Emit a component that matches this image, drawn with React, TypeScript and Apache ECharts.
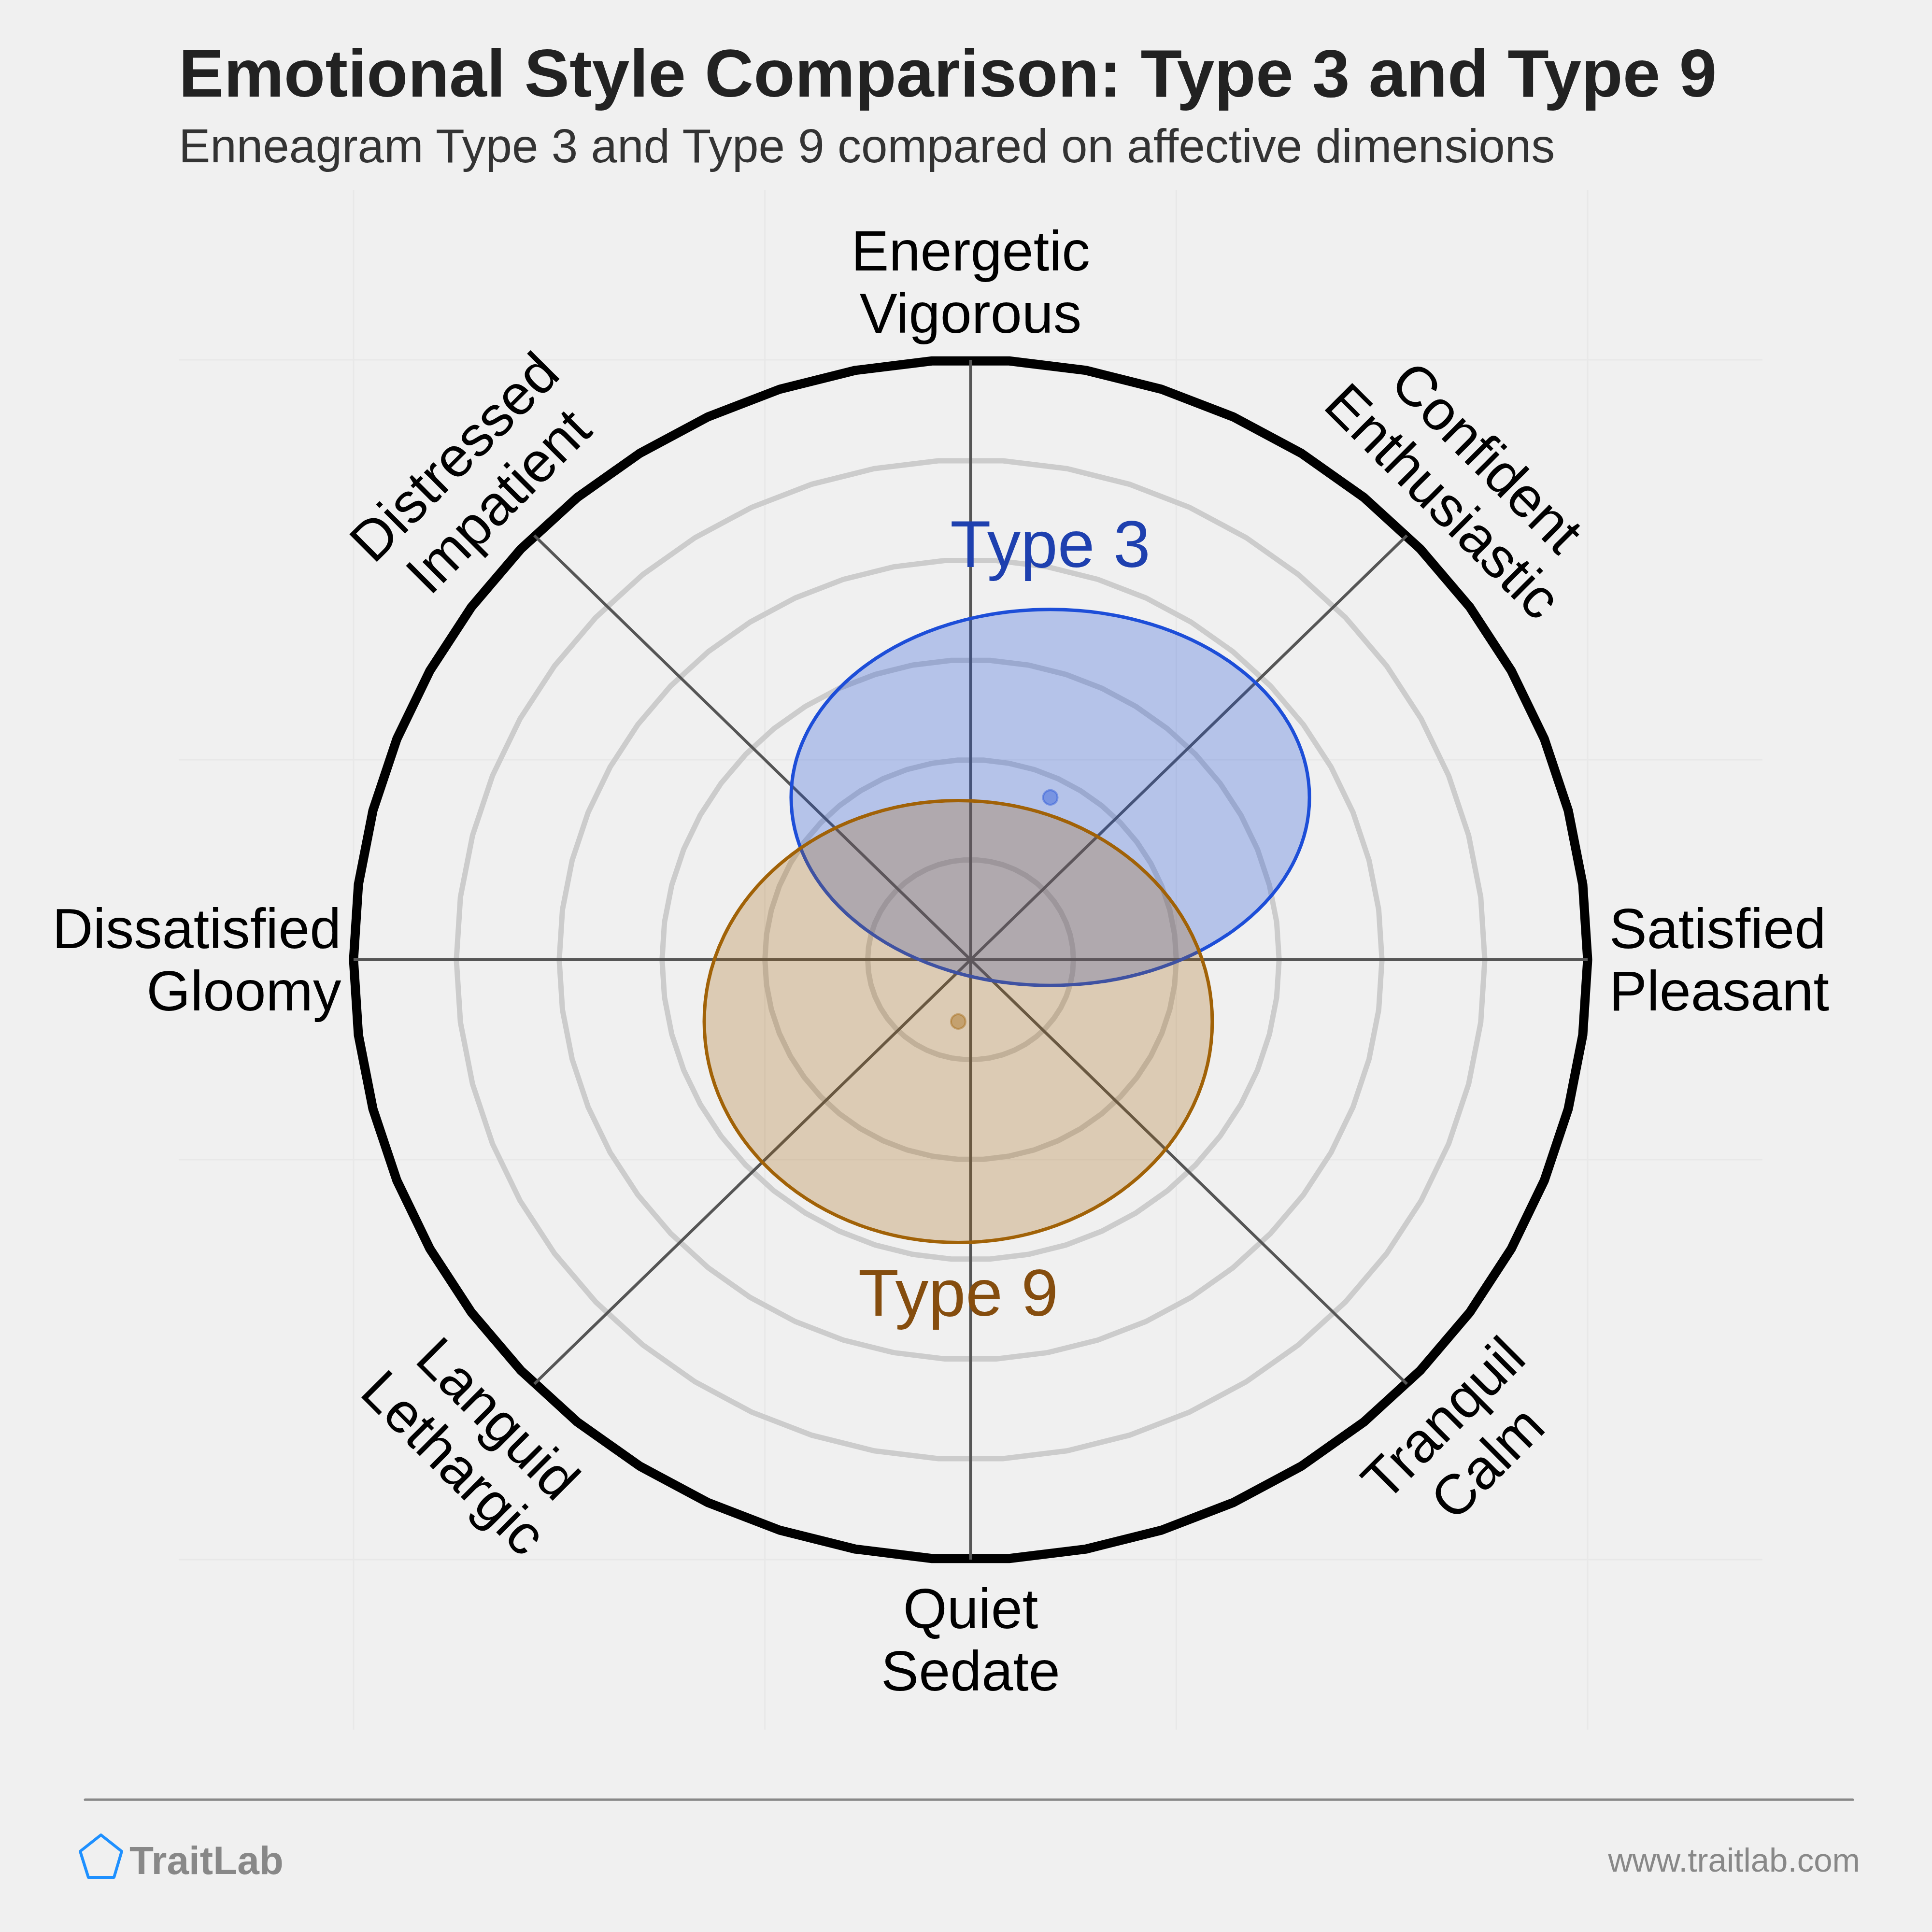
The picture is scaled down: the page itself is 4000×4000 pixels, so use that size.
import React, { useEffect, useRef } from "react";
import * as echarts from "echarts";

// ---- Data ----
const TYPE_NAMES = ["Type 3", "Type 9"];
const CENTER_X = [0.775, -0.12];
const CENTER_Y = [1.623, -0.618];
const SPREAD_X = [2.52, 2.47];
const SPREAD_Y = [1.88, 2.21];
const NAME_Y = [4.16, -3.33];

const RING_LEVELS = [1, 2, 3, 4, 5, 6];
const SPOKE_ANGLES = [0, 45, 90, 135, 180, 225, 270, 315];
const AXIS_LABELS = [
  "Satisfied\nPleasant",
  "Confident\nEnthusiastic",
  "Energetic\nVigorous",
  "Distressed\nImpatient",
  "Dissatisfied\nGloomy",
  "Languid\nLethargic",
  "Quiet\nSedate",
  "Tranquil\nCalm",
];
const GRID_TICKS = [-6, -2, 2, 6];

const TITLE = "Emotional Style Comparison: Type 3 and Type 9";
const SUBTITLE = "Enneagram Type 3 and Type 9 compared on affective dimensions";

// ---- Style ----
const AXIS_MIN = -7.7;
const AXIS_MAX = 7.7;
const OUTER = 6;
const RING_SIDES = 50;
const FONT = "'Liberation Sans', Arial, Helvetica, sans-serif";
const LINE_COLORS = ["#1d4ed8", "#a16207"];
const FILL_COLORS = ["rgba(29,78,216,0.28)", "rgba(161,98,7,0.26)"];
const TEXT_COLORS = ["#1e40af", "#854d0e"];
const DOT_COLORS = ["rgba(29,78,216,0.5)", "rgba(161,98,7,0.5)"];

export default function App() {
  const ref = useRef<HTMLDivElement>(null);

  useEffect(() => {
    document.body.style.margin = "0";
    if (!ref.current) return;
    const chart = echarts.init(ref.current, null, { renderer: "svg" });

    const gridSeries = {
      type: "custom",
      silent: true,
      data: GRID_TICKS.map((v) => [v, v]),
      renderItem: (params: any, api: any) => {
        const v = GRID_TICKS[params.dataIndex];
        const a = api.coord([v, AXIS_MIN]);
        const b = api.coord([v, AXIS_MAX]);
        const c = api.coord([AXIS_MIN, v]);
        const d = api.coord([AXIS_MAX, v]);
        const st = { stroke: "#e8e8e8", lineWidth: 3 };
        return {
          type: "group",
          children: [
            { type: "line", shape: { x1: a[0], y1: a[1], x2: b[0], y2: b[1] }, style: st },
            { type: "line", shape: { x1: c[0], y1: c[1], x2: d[0], y2: d[1] }, style: st },
          ],
        };
      },
    };

    const ringSeries = {
      type: "custom",
      silent: true,
      data: RING_LEVELS.map((r) => [r, 0]),
      renderItem: (params: any, api: any) => {
        const r = RING_LEVELS[params.dataIndex];
        const pts: number[][] = [];
        for (let k = 0; k < RING_SIDES; k++) {
          const t = (2 * Math.PI * k) / RING_SIDES;
          pts.push(api.coord([r * Math.cos(t), r * Math.sin(t)]));
        }
        const outer = r === OUTER;
        return {
          type: "polygon",
          shape: { points: pts },
          style: {
            fill: "none",
            stroke: outer ? "#000000" : "#cccccc",
            lineWidth: outer ? 19 : 11,
          },
        };
      },
    };

    const spokeSeries = {
      type: "custom",
      silent: true,
      data: SPOKE_ANGLES.map((a) => [a, 0]),
      renderItem: (params: any, api: any) => {
        const t = (SPOKE_ANGLES[params.dataIndex] * Math.PI) / 180;
        const p0 = api.coord([0, 0]);
        const p1 = api.coord([OUTER * Math.cos(t), OUTER * Math.sin(t)]);
        return {
          type: "line",
          shape: { x1: p0[0], y1: p0[1], x2: p1[0], y2: p1[1] },
          style: { stroke: "#555555", lineWidth: 6 },
        };
      },
    };

    const ellipseSeries = TYPE_NAMES.map((name, i) => ({
      type: "custom",
      name,
      silent: true,
      data: [[CENTER_X[i], CENTER_Y[i], SPREAD_X[i], SPREAD_Y[i], NAME_Y[i]]],
      renderItem: (params: any, api: any) => {
        const c = api.coord([api.value(0), api.value(1)]);
        const s = api.size([api.value(2), api.value(3)]);
        const lp = api.coord([api.value(0), api.value(4)]);
        return {
          type: "group",
          children: [
            {
              type: "ellipse",
              shape: { cx: c[0], cy: c[1], rx: s[0], ry: s[1] },
              style: { fill: FILL_COLORS[i], stroke: LINE_COLORS[i], lineWidth: 7 },
            },
            {
              type: "text",
              x: lp[0],
              y: lp[1],
              style: {
                text: name,
                fill: TEXT_COLORS[i],
                fontSize: 138,
                fontFamily: FONT,
                align: "center",
                verticalAlign: "middle",
              },
            },
          ],
        };
      },
    }));

    const dotSeries = TYPE_NAMES.map((name, i) => ({
      type: "scatter",
      name: name + " center",
      silent: true,
      symbol: "circle",
      symbolSize: 30,
      data: [[CENTER_X[i], CENTER_Y[i]]],
      itemStyle: { color: DOT_COLORS[i], borderColor: DOT_COLORS[i], borderWidth: 4 },
    }));

    const labelSeries = {
      type: "custom",
      silent: true,
      data: SPOKE_ANGLES.map((a) => [a, 0]),
      renderItem: (params: any, api: any) => {
        const i = params.dataIndex;
        const deg = SPOKE_ANGLES[i];
        const t = (deg * Math.PI) / 180;
        let pos: number[];
        let align = "center";
        let rotation = 0;
        if (deg === 0) {
          pos = api.coord([6.21, 0]);
          align = "left";
        } else if (deg === 180) {
          pos = api.coord([-6.12, 0]);
          align = "right";
        } else {
          pos = api.coord([6.8 * Math.cos(t), 6.8 * Math.sin(t)]);
          if (deg === 45 || deg === 225) rotation = -Math.PI / 4;
          if (deg === 135 || deg === 315) rotation = Math.PI / 4;
          if (deg === 90) pos = [pos[0], pos[1] + 5];
        }
        return {
          type: "text",
          x: pos[0],
          y: pos[1],
          rotation,
          style: {
            text: AXIS_LABELS[i],
            fill: "#000000",
            fontSize: 117,
            lineHeight: 129,
            fontFamily: FONT,
            align,
            verticalAlign: "middle",
          },
        };
      },
    };

    chart.setOption({
      animation: false,
      backgroundColor: "#f0f0f0",
      grid: { left: 370, top: 393, width: 3279, height: 3188 },
      xAxis: {
        type: "value",
        min: AXIS_MIN,
        max: AXIS_MAX,
        show: false,
        splitLine: { show: false },
      },
      yAxis: {
        type: "value",
        min: AXIS_MIN,
        max: AXIS_MAX,
        show: false,
        splitLine: { show: false },
      },
      series: [gridSeries, ringSeries, spokeSeries, ...ellipseSeries, ...dotSeries, labelSeries],
      graphic: [
        {
          type: "text",
          x: 370,
          y: 151,
          style: {
            text: TITLE,
            fill: "#222222",
            fontSize: 140,
            fontWeight: "bold",
            fontFamily: FONT,
            align: "left",
            verticalAlign: "middle",
          },
        },
        {
          type: "text",
          x: 370,
          y: 302,
          style: {
            text: SUBTITLE,
            fill: "#333333",
            fontSize: 98,
            fontFamily: FONT,
            align: "left",
            verticalAlign: "middle",
          },
        },
        {
          type: "line",
          shape: { x1: 176, y1: 3726, x2: 3836, y2: 3726 },
          style: { stroke: "#888888", lineWidth: 5, lineCap: "round" },
        },
        {
          type: "polygon",
          shape: {
            points: [
              [209, 3799],
              [252, 3833],
              [236, 3887],
              [183, 3887],
              [166, 3833],
            ],
          },
          style: { fill: "none", stroke: "#1e90ff", lineWidth: 6, lineJoin: "round" },
        },
        {
          type: "text",
          x: 268,
          y: 3851,
          style: {
            text: "TraitLab",
            fill: "#888888",
            fontSize: 82,
            fontWeight: "bold",
            fontFamily: FONT,
            align: "left",
            verticalAlign: "middle",
          },
        },
        {
          type: "text",
          x: 3851,
          y: 3851,
          style: {
            text: "www.traitlab.com",
            fill: "#888888",
            fontSize: 69,
            fontFamily: FONT,
            align: "right",
            verticalAlign: "middle",
          },
        },
      ],
    });

    return () => chart.dispose();
  }, []);

  return <div ref={ref} style={{ width: 4000, height: 4000, background: "#f0f0f0" }} />;
}
